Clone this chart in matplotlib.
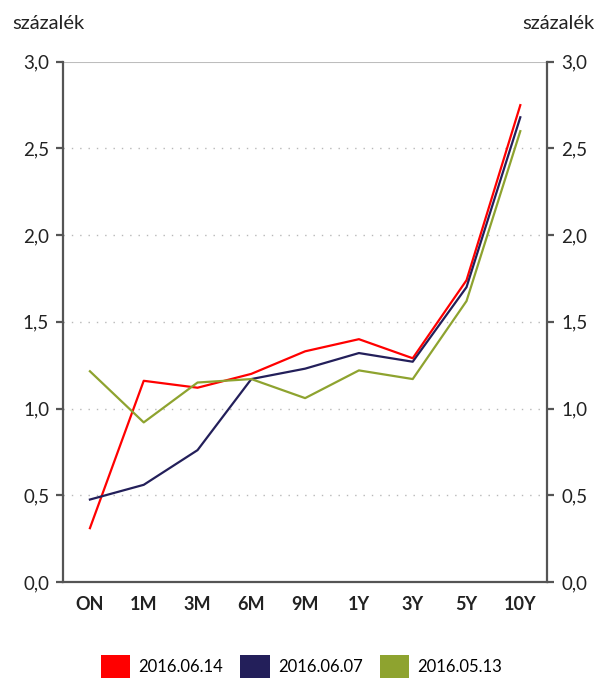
import matplotlib.pyplot as plt
from matplotlib.patches import Patch

plt.rcParams['font.family'] = ['Lato', 'DejaVu Sans']

categories = ['ON', '1M', '3M', '6M', '9M', '1Y', '3Y', '5Y', '10Y']
labels = ['2016.06.14', '2016.06.07', '2016.05.13']
colors = ['#ff0000', '#231f5a', '#8ea32f']

y_0614 = [0.31, 1.16, 1.12, 1.20, 1.33, 1.40, 1.29, 1.74, 2.75]
y_0607 = [0.475, 0.56, 0.76, 1.17, 1.23, 1.32, 1.27, 1.70, 2.68]
y_0513 = [1.215, 0.92, 1.15, 1.17, 1.06, 1.22, 1.17, 1.62, 2.60]
series = [y_0614, y_0607, y_0513]

yticks = [0.0, 0.5, 1.0, 1.5, 2.0, 2.5, 3.0]
ytick_labels = ['0,0', '0,5', '1,0', '1,5', '2,0', '2,5', '3,0']

fig = plt.figure(figsize=(6.06, 6.79), dpi=100)
ax = fig.add_axes([0.104, 0.143, 0.799, 0.766])

x = range(len(categories))
for vals, c, lab in zip(series, colors, labels):
    ax.plot(x, vals, color=c, lw=1.6, label=lab, zorder=3)

ax.set_xlim(-0.5, len(categories) - 0.5)
ax.set_ylim(0, 3.0)
ax.set_yticks(yticks)
ax.set_yticklabels(ytick_labels)
ax.set_xticks(list(x))
ax.set_xticklabels(categories, fontweight='bold')

# dotted grid, solid light line on top
for v in yticks[1:-1]:
    ax.axhline(v, color='#b8b8b8', lw=1, ls=(0, (1, 5)), zorder=1)
ax.axhline(3.0, color='#bdbdbd', lw=1.5, zorder=1)

for s in ['left', 'right', 'bottom']:
    ax.spines[s].set_color('#555555')
    ax.spines[s].set_linewidth(1.6)
ax.spines['top'].set_visible(False)

ax.tick_params(axis='y', direction='out', length=5, width=1.6, color='#555555',
               labelsize=13.5, labelcolor='#222222', right=True, labelright=True, pad=5)
ax.tick_params(axis='x', length=0, labelsize=13, labelcolor='#222222', pad=10)

fig.text(0.021, 0.965, 'százalék', fontsize=14.5, color='#222222', va='center', ha='left')
fig.text(0.981, 0.965, 'százalék', fontsize=14.5, color='#222222', va='center', ha='right')

handles = [Patch(facecolor=c, edgecolor='none', label=l) for c, l in zip(colors, labels)]
fig.legend(handles=handles, loc='lower center', bbox_to_anchor=(0.4975, 0.0015), ncol=3,
           frameon=False, fontsize=12, handlelength=1.75, handleheight=1.75,
           handletextpad=0.5, columnspacing=1.05, borderpad=0, borderaxespad=0)

fig.savefig('out.png', dpi=100)
